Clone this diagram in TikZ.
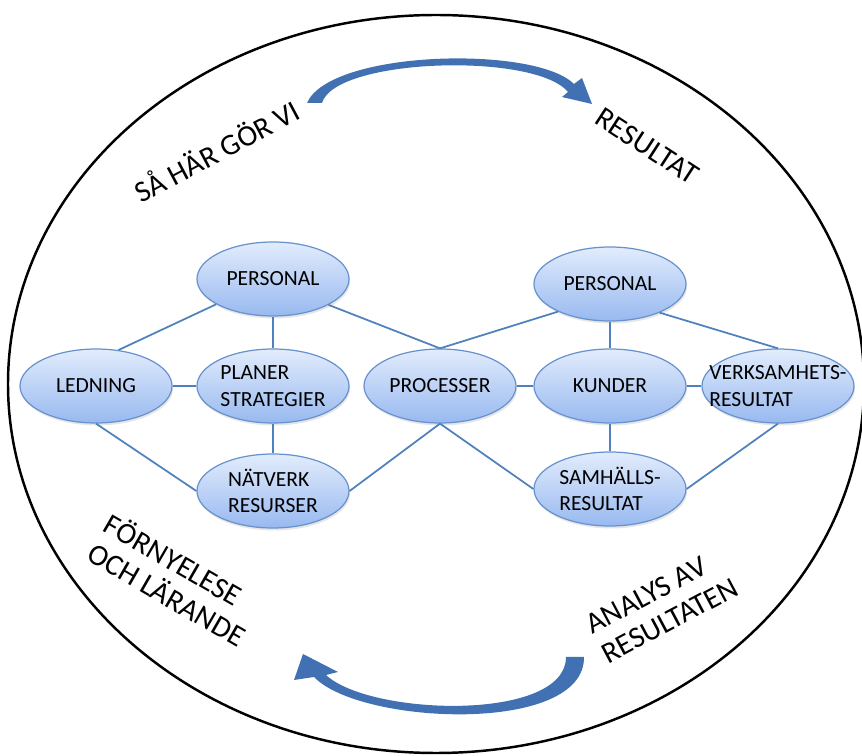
\documentclass[tikz,border=0pt]{standalone}
\usepackage{fontspec}
\setmainfont{Carlito}
\usetikzlibrary{shapes.geometric,shadows}
\definecolor{linje}{RGB}{79,129,189}
\definecolor{pil}{RGB}{65,113,178}
\definecolor{ljus}{RGB}{226,236,252}
\definecolor{mork}{RGB}{152,185,240}
\definecolor{kant}{RGB}{104,146,206}
\begin{document}
\begin{tikzpicture}[x=0.2mm,y=-0.2mm,
	bubble/.style={ellipse,draw=kant,line width=0.7pt,top color=ljus,bottom color=mork,minimum width=30.4mm,minimum height=14.8mm,inner xsep=-10pt,inner ysep=0pt,align=left,font=\fontsize{12.3}{15}\selectfont,drop shadow={opacity=0.2,shadow xshift=0.6pt,shadow yshift=-1.4pt}},
	link/.style={draw=linje,line width=1pt},
	phase/.style={align=left,font=\fontsize{17}{19}\selectfont}]
	\useasboundingbox (0,0) rectangle (862,756);
	\draw[line width=1.4pt] (436,384) ellipse [x radius=428, y radius=369];
	\fill[pil] (307,103) .. controls (330,50) and (535,45) .. (574,84) -- (582,78) -- (592,104) -- (562,97) -- (568,92) .. controls (535,52) and (335,58) .. (322,103) -- cycle;
	\fill[pil] (584,657) .. controls (585,735) and (360,725) .. (314,677) -- (294,680) -- (303,654) -- (338,672) -- (326,675) .. controls (370,716) and (566,722) .. (566,657) -- cycle;
	\node[bubble] (pers1) at (273,279) {PERSONAL};
	\node[bubble] (led) at (96,386) {LEDNING};
	\node[bubble] (plan) at (273,386) {PLANER\\STRATEGIER};
	\node[bubble] (nat) at (273,491) {NÄTVERK\\RESURSER};
	\node[bubble] (proc) at (440,386) {PROCESSER};
	\node[bubble] (pers2) at (610,284) {PERSONAL};
	\node[bubble] (kund) at (610,386) {KUNDER};
	\node[bubble] (verk) at (778,386) {VERKSAMHETS-\\RESULTAT};
	\node[bubble] (samh) at (610,489) {SAMHÄLLS-\\RESULTAT};
	\draw[link] (pers1.204) -- (led.58);
	\draw[link] (pers1) -- (plan);
	\draw[link] (pers1.335) -- (proc.north);
	\draw[link] (pers2.208) -- (proc.north);
	\draw[link] (led) -- (plan);
	\draw[link] (plan) -- (nat);
	\draw[link] (led.south) -- (nat.west);
	\draw[link] (nat.east) -- (proc.south);
	\draw[link] (proc.south) -- (samh.west);
	\draw[link] (proc) -- (kund);
	\draw[link] (pers2) -- (kund);
	\draw[link] (pers2.330) -- (verk.north);
	\draw[link] (kund) -- (verk);
	\draw[link] (kund) -- (samh);
	\draw[link] (samh.east) -- (verk.south);
	\node[phase,rotate=28] (gor) at (216,150) {SÅ HÄR GÖR VI};
	\node[phase,rotate=-33] (res) at (647,146) {RESULTAT};
	\node[phase,rotate=-30] (forn) at (176,579) {FÖRNYELESE\\OCH LÄRANDE};
	\node[phase,rotate=28] (anal) at (662,606) {ANALYS AV\\RESULTATEN};
\end{tikzpicture}
\end{document}
